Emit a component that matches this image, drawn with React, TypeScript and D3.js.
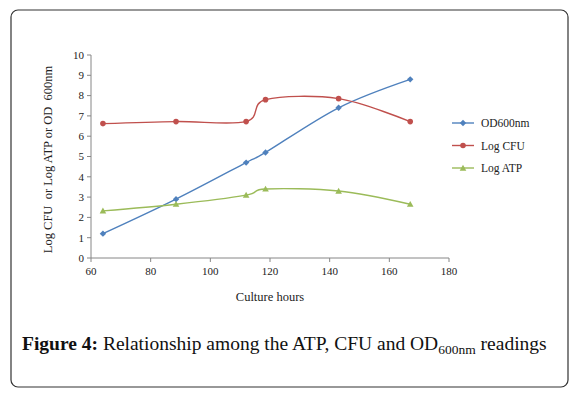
import React from "react";
import * as d3 from "d3";

const hours = [64, 88.5, 112, 118.5, 143, 167];
const od600 = [1.2, 2.9, 4.7, 5.2, 7.4, 8.8];
const logCFU = [6.62, 6.72, 6.72, 7.8, 7.85, 6.72];
const logATP = [2.32, 2.65, 3.1, 3.4, 3.3, 2.65];
const xTicks = [60, 80, 100, 120, 140, 160, 180];
const yTicks = [0, 1, 2, 3, 4, 5, 6, 7, 8, 9, 10];

const seriesNames = ["OD600nm", "Log CFU", "Log ATP"];
const seriesColors = ["#4F81BD", "#C0504D", "#9BBB59"];
const seriesMarkers = ["diamond", "circle", "triangle"];

const FONT = "'Liberation Serif', 'DejaVu Serif', serif";

function Marker({ type, x, y, color }: { type: string; x: number; y: number; color: string }) {
  if (type === "diamond") {
    const s = 3.2;
    return <path d={`M${x},${y - s}L${x + s},${y}L${x},${y + s}L${x - s},${y}Z`} fill={color} />;
  }
  if (type === "circle") {
    return <circle cx={x} cy={y} r={2.8} fill={color} />;
  }
  const s = 3.3;
  return <path d={`M${x},${y - s}L${x + s},${y + s * 0.8}L${x - s},${y + s * 0.8}Z`} fill={color} />;
}

export default function App() {
  const W = 576, H = 396;
  const x = d3.scaleLinear().domain([60, 180]).range([91, 449]);
  const y = d3.scaleLinear().domain([0, 10]).range([258, 55]);
  const allSeries = [od600, logCFU, logATP];
  const line = d3
    .line<[number, number]>()
    .x((d) => x(d[0]))
    .y((d) => y(d[1]))
    .curve(d3.curveCatmullRom.alpha(0));
  const axisColor = "#868686";

  return (
    <svg
      width={W}
      height={H}
      style={{ position: "absolute", left: 0, top: 0, background: "#fff" }}
    >
      <rect x={11} y={10} width={557} height={377} rx={7} fill="#fff" stroke="#333" strokeWidth={1.2} />

      {/* axes */}
      <line x1={x(60)} x2={x(60)} y1={y(10)} y2={y(0)} stroke={axisColor} />
      <line x1={x(60)} x2={x(180)} y1={y(0)} y2={y(0)} stroke={axisColor} />
      {yTicks.map((t) => (
        <g key={"y" + t}>
          <line x1={x(60) - 4} x2={x(60)} y1={y(t)} y2={y(t)} stroke={axisColor} />
          <text x={x(60) - 7} y={y(t)} dy="0.35em" textAnchor="end" fontFamily={FONT} fontSize={11} fill="#222">
            {t}
          </text>
        </g>
      ))}
      {xTicks.map((t) => (
        <g key={"x" + t}>
          <line x1={x(t)} x2={x(t)} y1={y(0)} y2={y(0) + 4} stroke={axisColor} />
          <text x={x(t)} y={y(0) + 17} textAnchor="middle" fontFamily={FONT} fontSize={11} fill="#222">
            {t}
          </text>
        </g>
      ))}

      <text
        transform={`translate(52,${(y(0) + y(10)) / 2 + 3}) rotate(-90)`}
        textAnchor="middle"
        fontFamily={FONT}
        fontSize={12.5}
        fill="#222"
      >
        {"Log CFU\u00a0\u00a0or Log ATP or OD\u00a0\u00a0600nm"}
      </text>
      <text x={(x(60) + x(180)) / 2} y={301} textAnchor="middle" fontFamily={FONT} fontSize={12.5} fill="#222">
        Culture hours
      </text>

      {/* series */}
      {allSeries.map((vals, i) => {
        const pts: [number, number][] = hours.map((h, j) => [h, vals[j]]);
        return (
          <g key={"s" + i}>
            <path d={line(pts) || ""} fill="none" stroke={seriesColors[i]} strokeWidth={1.4} />
            {pts.map((p, j) => (
              <Marker key={j} type={seriesMarkers[i]} x={x(p[0])} y={y(p[1])} color={seriesColors[i]} />
            ))}
          </g>
        );
      })}

      {/* legend */}
      {seriesNames.map((n, i) => {
        const ly = 123 + i * 22.5;
        return (
          <g key={"l" + i}>
            <line x1={452} x2={474} y1={ly} y2={ly} stroke={seriesColors[i]} strokeWidth={1.4} />
            <Marker type={seriesMarkers[i]} x={463} y={ly} color={seriesColors[i]} />
            <text x={481} y={ly} dy="0.35em" fontFamily={FONT} fontSize={11.5} fill="#222">
              {n}
            </text>
          </g>
        );
      })}

      {/* caption */}
      <text x={22} y={350} fontFamily={FONT} fontSize={19.5} fill="#111">
        <tspan fontWeight="bold">Figure 4:</tspan>
        <tspan> Relationship among the ATP, CFU and OD</tspan>
        <tspan fontSize={13.5} dy={4}>600nm</tspan>
        <tspan dy={-4}> readings</tspan>
      </text>
    </svg>
  );
}
